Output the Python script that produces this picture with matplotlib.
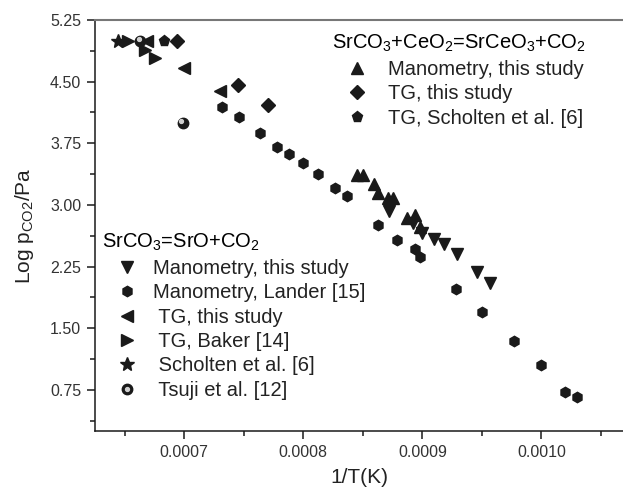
import matplotlib
matplotlib.use("Agg")
import matplotlib.pyplot as plt
from matplotlib.legend_handler import HandlerTuple
from matplotlib.transforms import ScaledTranslation
import numpy as np

plt.rcParams['font.family'] = ['Liberation Sans', 'DejaVu Sans']
plt.rcParams['mathtext.fontset'] = 'custom'
plt.rcParams['mathtext.rm'] = 'Liberation Sans'
plt.rcParams['mathtext.it'] = 'Liberation Sans:italic'
plt.rcParams['mathtext.bf'] = 'Liberation Sans:bold'

# ---- data: SrCO3 = SrO + CO2 ----
mano_this_x = [0.000872, 0.000892, 0.000900, 0.000910, 0.000918, 0.000929, 0.000946, 0.000957]
mano_this_y = [2.93, 2.78, 2.66, 2.59, 2.52, 2.40, 2.18, 2.05]

lander_x = [0.000732, 0.000746, 0.000764, 0.000778, 0.000788, 0.000800, 0.000812, 0.000827,
            0.000837, 0.000863, 0.000879, 0.000894, 0.000898, 0.000928, 0.000950, 0.000977,
            0.001000, 0.001020, 0.001030]
lander_y = [4.19, 4.07, 3.87, 3.71, 3.62, 3.51, 3.38, 3.21, 3.11, 2.76, 2.57, 2.47, 2.37,
            1.98, 1.70, 1.35, 1.05, 0.72, 0.66]

tg_this_x = [0.000669, 0.000700, 0.000730]
tg_this_y = [5.00, 4.67, 4.39]

baker_x = [0.000653, 0.000667, 0.000675]
baker_y = [5.00, 4.89, 4.79]

scholten_x = [0.000644]
scholten_y = [5.00]

tsuji_x = [0.000663, 0.000699]
tsuji_y = [5.00, 4.00]

# ---- data: SrCO3 + CeO2 = SrCeO3 + CO2 ----
ce_mano_x = [0.000845, 0.000850, 0.000859, 0.000863, 0.000871, 0.000875, 0.000887, 0.000894, 0.000898]
ce_mano_y = [3.37, 3.36, 3.26, 3.15, 3.08, 3.09, 2.84, 2.88, 2.73]

ce_tg_x = [0.000694, 0.000745, 0.000770]
ce_tg_y = [5.00, 4.46, 4.22]

ce_scholten_x = [0.000683]
ce_scholten_y = [5.00]

xticks = [0.0007, 0.0008, 0.0009, 0.0010]
yticks = [0.75, 1.50, 2.25, 3.00, 3.75, 4.50, 5.25]

K = '#1a1a1a'
fig = plt.figure(figsize=(6.23, 4.94), dpi=100)
ax = fig.add_axes([95/623, 1-431/494, 528/623, 411/494])

ms = 8
h1, = ax.plot(mano_this_x, mano_this_y, 'v', color=K, ms=ms, ls='none')
h2, = ax.plot(lander_x, lander_y, 'h', color=K, ms=7.5, ls='none')
h3, = ax.plot(tg_this_x, tg_this_y, '<', color=K, ms=ms, ls='none')
h4, = ax.plot(baker_x, baker_y, '>', color=K, ms=ms, ls='none')
h5, = ax.plot(scholten_x, scholten_y, '*', color=K, ms=10, ls='none')
h6a, = ax.plot(tsuji_x, tsuji_y, 'o', color=K, ms=7.5, ls='none')
off = ScaledTranslation(-1.2/72, 1.2/72, fig.dpi_scale_trans)
h6b, = ax.plot(tsuji_x, tsuji_y, 'o', color='#d0d0d0', ms=2.8, ls='none',
               transform=ax.transData + off)

g1, = ax.plot(ce_mano_x, ce_mano_y, '^', color=K, ms=ms, ls='none')
g2, = ax.plot(ce_tg_x, ce_tg_y, 'D', color=K, ms=7, ls='none')
g3, = ax.plot(ce_scholten_x, ce_scholten_y, 'p', color=K, ms=8, ls='none')

ax.set_xlim(0.000625, 0.0010685)
ax.set_ylim(0.25, 5.25)
ax.set_xticks(xticks)
ax.set_xticklabels([f'{v:.4f}' for v in xticks])
ax.set_xticks(np.arange(0.00065, 0.00106, 0.0001), minor=True)
ax.set_yticks(yticks)
ax.set_yticklabels([f'{v:.2f}' for v in yticks])
ax.set_yticks(np.arange(0.375, 5.3, 0.75), minor=True)

ax.spines['right'].set_visible(False)
ax.spines['top'].set_color('#777777')
ax.spines['top'].set_linewidth(1.5)
for s in ['left', 'bottom']:
    ax.spines[s].set_color(K)
    ax.spines[s].set_linewidth(1.1)
ax.tick_params(which='major', direction='out', length=6, width=1.1, color=K,
               labelsize=11.5, labelcolor='#333333', pad=4)
ax.tick_params(which='minor', direction='out', length=3.5, width=1.1, color=K)
ax.tick_params(top=False, right=False, which='both')

ax.set_xlabel('1/T(K)', fontsize=15, color='#222222', labelpad=6)
ax.set_ylabel(r'Log p$_{\mathregular{CO2}}$/Pa', fontsize=15, color='#222222', labelpad=10)

fs = 14.5
leg1 = ax.legend([g1, g2, g3],
                 ['Manometry, this study', 'TG, this study', 'TG, Scholten et al. [6]'],
                 title=r'SrCO$_3$+CeO$_2$=SrCeO$_3$+CO$_2$',
                 loc='upper left', bbox_to_anchor=(332/623, 1-33/494),
                 bbox_transform=fig.transFigure, frameon=False, fontsize=fs,
                 title_fontsize=fs, borderpad=0, borderaxespad=0, handlelength=2.46,
                 handletextpad=0.3, labelspacing=0.27)
leg1._legend_box.align = 'left'
for t in leg1.get_texts():
    t.set_color('#222222')
ax.add_artist(leg1)

leg2 = ax.legend([h1, h2, h3, h4, h5, (h6a, h6b)],
                 ['Manometry, this study', 'Manometry, Lander [15]', ' TG, this study',
                  ' TG, Baker [14]', ' Scholten et al. [6]', ' Tsuji et al. [12]'],
                 handler_map={tuple: HandlerTuple(ndivide=1, pad=0)},
                 title=r'SrCO$_3$=SrO+CO$_2$',
                 loc='upper left', bbox_to_anchor=(102/623, 1-232/494),
                 bbox_transform=fig.transFigure, frameon=False, fontsize=fs,
                 title_fontsize=fs, borderpad=0, borderaxespad=0, handlelength=2.46,
                 handletextpad=0.05, labelspacing=0.27)
leg2._legend_box.align = 'left'
for t in leg2.get_texts():
    t.set_color('#222222')

fig.savefig('out.png', dpi=100)
